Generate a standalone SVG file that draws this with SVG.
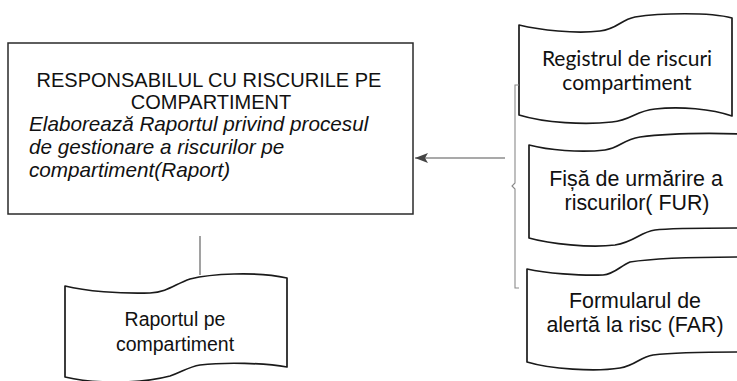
<svg xmlns="http://www.w3.org/2000/svg" width="737" height="381" viewBox="0 0 737 381">
<defs>
<style>
.bg{fill:#ffffff}
.box{fill:#ffffff;stroke:#2a2a2a;stroke-width:1.5}
.doc{fill:#ffffff;stroke:#1a1a1a;stroke-width:1.7;stroke-linejoin:round}
.t{font-family:"Liberation Sans",Arial,sans-serif;fill:#111111}
.cap{font-size:20px}
.it{font-size:20.7px;font-style:italic}
.dt{font-size:21.4px;text-anchor:middle}
.dc{font-family:Lato,"Liberation Sans",sans-serif;font-size:21px;text-anchor:middle;fill:#111111}
.conn{fill:none;stroke:#555555;stroke-width:1.1}
.brace{fill:none;stroke:#8a8a8a;stroke-width:1.1}
</style>
<marker id="ah" markerUnits="userSpaceOnUse" markerWidth="14" markerHeight="12" refX="13" refY="6" orient="auto">
<path d="M0,1 L13,6 L0,11 L3,6 Z" fill="#444444"/>
</marker>
</defs>
<rect class="bg" x="0" y="0" width="737" height="381"/>

<g id="responsabil">
<rect class="box" x="8" y="43" width="405" height="171"/>
<text class="t cap" x="209" y="87" text-anchor="middle">RESPONSABILUL CU RISCURILE PE</text>
<text class="t cap" x="211" y="109" text-anchor="middle">COMPARTIMENT</text>
<text class="t it" x="29" y="131">Elaborează Raportul privind procesul</text>
<text class="t it" x="29" y="154">de gestionare a riscurilor pe</text>
<text class="t it" x="29" y="177">compartiment(Raport)</text>
</g>

<g id="registrul">
<path class="doc" d="M519,25 C540,30 575,34 600,31 C618,29 620,20 635,17 C660,13 710,12 732,18 L732,116 C712,109 680,106 655,109 C635,111 632,120 612,122 C585,125 545,123 519,115 Z"/>
<text class="dc" x="627" y="66">Registrul de riscuri</text>
<text class="dc" x="627" y="90">compartiment</text>
</g>

<g id="fur">
<path class="doc" d="M529,145 C548,150 580,153 605,150 C620,148 622,140 640,137 C670,133 710,133 745,134 L745,228 C700,228 670,228 655,230 C640,232 635,242 615,245 C590,248 550,244 529,238 Z"/>
<text class="t dt" x="636" y="186">Fișă de urmărire a</text>
<text class="t dt" x="637" y="210">riscurilor( FUR)</text>
</g>

<g id="far">
<path class="doc" d="M527,269 C545,273 580,276 603,275 C615,274 620,266 630,262 C655,258 700,257 745,257 L745,352 C700,352 670,353 653,355 C640,357 635,366 620,368 C595,372 550,369 527,362 Z"/>
<text class="t dt" x="635" y="308">Formularul de</text>
<text class="t dt" x="635" y="332">alertă la risc (FAR)</text>
</g>

<g id="raportul">
<path class="doc" d="M65,286 C85,291 120,294 150,293 C168,292 175,284 190,279 C210,274 255,271 287,278 L287,367 C265,363 225,362 200,365 C188,367 182,372 170,376 C140,384 95,384 65,377 Z"/>
<text class="t dt" x="175" y="326" style="font-size:19.5px">Raportul pe</text>
<text class="t dt" x="175" y="351" style="font-size:19.5px">compartiment</text>
</g>

<g id="connectors">
<line class="conn" x1="505" y1="158" x2="415" y2="158" marker-end="url(#ah)"/>
<line class="conn" x1="200" y1="236" x2="200" y2="275"/>
<path class="brace" d="M519,85 L515,85 L515,183 L512,186 L515,189 L515,288 L519,288"/>
</g>
</svg>
